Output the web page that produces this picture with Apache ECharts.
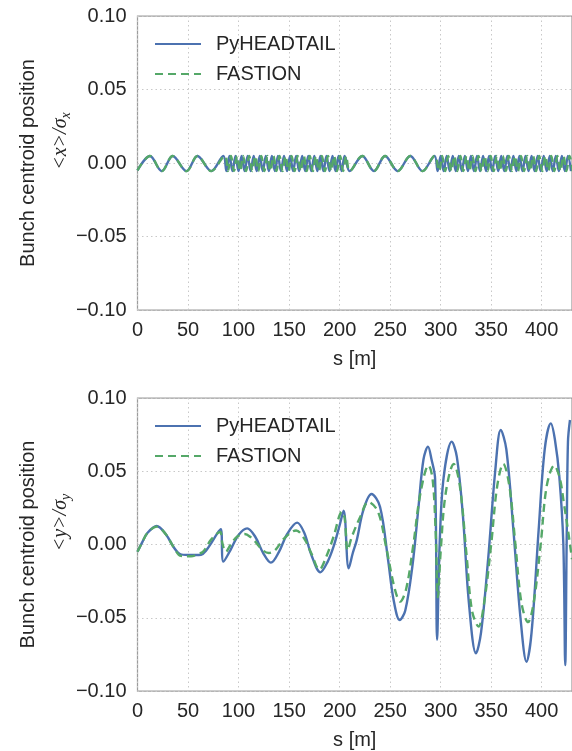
<!DOCTYPE html>
<html>
<head>
<meta charset="utf-8">
<script src="https://cdn.jsdelivr.net/npm/echarts@6/dist/echarts.min.js"></script>
<style>html,body{margin:0;padding:0;background:#fff;}#c{width:572px;height:751px;}</style>
</head>
<body>
<div id="c"></div>
<script>
// ---- Top panel: horizontal centroid <x>/sigma_x ----
const topPyS = [0, 12.3, 24, 34.8, 48.5, 59.3, 73,
  85, 88, 91, 94, 97, 100, 103, 106, 109, 112, 115, 118, 121, 124, 127, 130, 133, 136, 139, 142,
  145, 148, 151, 154, 157, 160, 163, 166, 169, 172, 175, 178, 181, 184, 187, 190, 193, 196, 199, 202, 205,
  210, 222.5, 234, 245, 257.5, 270, 282, 294,
  297, 300, 303, 306, 309, 312, 315, 318, 321, 324, 327, 330, 333, 336, 339, 342, 345, 348, 351, 354,
  357, 360, 363, 366, 369, 372, 375, 378, 381, 384, 387, 390, 393, 396, 399, 402, 405, 408, 411, 414,
  417, 420, 423, 426, 429];
const topPyV = [-0.005, 0.0048, -0.0055, 0.0048, -0.0055, 0.0048, -0.0055,
  0.0048, -0.0055, 0.0048, -0.0055, 0.0048, -0.0055, 0.0048, -0.0055, 0.0048, -0.0055, 0.0048, -0.0055, 0.0048, -0.0055, 0.0048, -0.0055, 0.0048, -0.0055, 0.0048, -0.0055,
  0.0048, -0.0055, 0.0048, -0.0055, 0.0048, -0.0055, 0.0048, -0.0055, 0.0048, -0.0055, 0.0048, -0.0055, 0.0048, -0.0055, 0.0048, -0.0055, 0.0048, -0.0055, 0.0048, -0.0055, 0.0048,
  -0.0055, 0.0048, -0.0055, 0.0048, -0.0055, 0.0048, -0.0055, 0.0048,
  -0.0055, 0.0048, -0.0055, 0.0048, -0.0055, 0.0048, -0.0055, 0.0048, -0.0055, 0.0048, -0.0055, 0.0048, -0.0055, 0.0048, -0.0055, 0.0048, -0.0055, 0.0048, -0.0055, 0.0048,
  -0.0055, 0.0048, -0.0055, 0.0048, -0.0055, 0.0048, -0.0055, 0.0048, -0.0055, 0.0048, -0.0055, 0.0048, -0.0055, 0.0048, -0.0055, 0.0048, -0.0055, 0.0048, -0.0055, 0.0048,
  -0.0055, 0.0048, -0.0055, 0.0048, -0.0055];
const topFaS = [0, 12.3, 24, 34.8, 48.5, 59.3, 73,
  86.5, 89.5, 92.5, 95.5, 98.5, 101.5, 104.5, 107.5, 110.5, 113.5, 116.5, 119.5, 122.5, 125.5, 128.5, 131.5, 134.5, 137.5, 140.5, 143.5,
  146.5, 149.5, 152.5, 155.5, 158.5, 161.5, 164.5, 167.5, 170.5, 173.5, 176.5, 179.5, 182.5, 185.5, 188.5, 191.5, 194.5, 197.5, 200.5, 203.5, 206.5,
  210, 222.5, 234, 245, 257.5, 270, 282, 294,
  298.5, 301.5, 304.5, 307.5, 310.5, 313.5, 316.5, 319.5, 322.5, 325.5, 328.5, 331.5, 334.5, 337.5, 340.5, 343.5, 346.5, 349.5, 352.5, 355.5,
  358.5, 361.5, 364.5, 367.5, 370.5, 373.5, 376.5, 379.5, 382.5, 385.5, 388.5, 391.5, 394.5, 397.5, 400.5, 403.5, 406.5, 409.5, 412.5, 415.5,
  418.5, 421.5, 424.5, 427.5, 430.5];
const topFaV = topPyV.slice();

// ---- Bottom panel: vertical centroid <y>/sigma_y ----
const botPyS = [0, 5, 10, 19, 28, 36, 42, 50, 63, 68, 73, 79, 82.5, 85, 92, 100, 108.5, 116.5, 124.5, 132,
  140, 148, 158, 165, 172, 181, 188, 194, 200, 204, 209, 213, 217, 223.5, 231.5, 240, 248, 253.5, 259.5, 265,
  272, 278, 283, 287.5, 291, 294.5, 296.5, 299, 303, 311, 316, 322, 328, 335, 340, 347, 354, 359.5, 365, 372,
  379, 385, 390, 397, 403, 409, 413, 417.5, 421.4, 423.3, 424.7, 426, 428];
const botPyV = [-0.005, 0.002, 0.008, 0.0126, 0.007, -0.002, -0.0065, -0.0072, -0.007, -0.004, 0.001, 0.0076, 0.0104, -0.0117, -0.0038, 0.0065, 0.011, 0.0053, -0.006, -0.0124,
  -0.005, 0.007, 0.0149, 0.008, -0.007, -0.019, -0.012, -0.0015, 0.013, 0.0231, -0.0163, -0.006, 0.003, 0.0235, 0.0345, 0.0258, -0.0106, -0.038, -0.0515, -0.045,
  -0.015, 0.025, 0.058, 0.0668, 0.058, 0.045, -0.065, 0.0, 0.046, 0.0702, 0.06, 0.02, -0.04, -0.0743, -0.06, -0.01, 0.05, 0.0782, 0.065, 0.01,
  -0.05, -0.08, -0.06, 0.01, 0.065, 0.0827, 0.072, 0.046, 0.001, -0.0823, 0.001, 0.07, 0.085];
const botFaS = [0, 5, 10, 19, 28, 36, 43, 53, 60, 65, 72.5, 79, 82, 84, 87.5, 92, 98.5, 106, 112, 118,
  124, 130, 136, 145, 157, 165, 172, 180, 187, 194, 202.5, 205, 208, 212, 220.5, 228.5, 238, 246, 254.5, 260,
  266, 273, 280, 288, 292, 295, 297.3, 300, 305, 313, 319, 326, 331, 337.5, 343, 350, 356, 362, 368, 374,
  380, 386.5, 392, 399, 405, 412.5, 418, 422, 426, 430];
const botFaV = [-0.005, 0.002, 0.008, 0.0122, 0.007, -0.002, -0.0078, -0.008, -0.0065, -0.0049, 0.003, 0.0076, 0.0085, 0.0008, -0.0049, -0.0003, 0.0053, 0.0072, 0.005, 0.0008,
  -0.004, -0.0058, -0.004, 0.004, 0.0096, 0.004, -0.006, -0.0171, -0.008, 0.0053, 0.0224, 0.018, -0.004, 0.005, 0.019, 0.029, 0.0224, -0.0015, -0.03, -0.039,
  -0.03, 0.0, 0.035, 0.054, 0.045, 0.01, -0.036, -0.005, 0.035, 0.055, 0.04, -0.01, -0.045, -0.056, -0.04, 0.0, 0.04, 0.055, 0.04, 0.0,
  -0.04, -0.053, -0.04, 0.0, 0.04, 0.054, 0.045, 0.028, 0.01, -0.01];

const xTicks = [0, 50, 100, 150, 200, 250, 300, 350, 400];
const yTicks = [-0.10, -0.05, 0.00, 0.05, 0.10];
const seriesNames = ['PyHEADTAIL', 'FASTION'];
const yNames = ['x', 'y'];

const pair = (s, v) => s.map((x, i) => [x, v[i]]);
const FONT = 'Liberation Sans, Arial, Helvetica, sans-serif';
const SERIF = 'Liberation Serif, DejaVu Serif, serif';
const TXT = '#262626';
const BLUE = '#4C72B0', GREEN = '#55A868';

function yFmt(v) {
  const a = Math.abs(v) < 1e-9 ? 0 : v;
  return (a < 0 ? '\u2212' : '') + Math.abs(a).toFixed(2);
}

function xAx(i) {
  return {
    type: 'value', gridIndex: i, min: 0, max: 430, interval: 50,
    axisLine: {show: false}, axisTick: {show: false},
    splitLine: {show: true, lineStyle: {color: '#c8c8c8', type: [1.5, 3], width: 1}},
    axisLabel: {fontSize: 20, color: TXT, fontFamily: FONT, margin: 10, showMaxLabel: false,
      formatter: v => xTicks.indexOf(v) >= 0 ? String(v) : ''},
    name: 's [m]', nameLocation: 'middle', nameGap: 39,
    nameTextStyle: {fontSize: 20, color: TXT, fontFamily: FONT}
  };
}
function yAx(i, sym) {
  return {
    type: 'value', gridIndex: i, min: -0.1, max: 0.1, interval: 0.05,
    axisLine: {show: false}, axisTick: {show: false},
    splitLine: {show: true, lineStyle: {color: '#c8c8c8', type: [1.5, 3], width: 1}},
    axisLabel: {fontSize: 20, color: TXT, fontFamily: FONT, margin: 11, formatter: yFmt},
    name: '{t|Bunch centroid position}\n{m|<' + sym + '>/\u03C3}{s|' + sym + '}',
    nameLocation: 'middle', nameGap: 61, nameMoveOverlap: false,
    nameTextStyle: {
      color: TXT,
      rich: {
        t: {fontSize: 20, fontFamily: FONT, color: TXT, lineHeight: 32},
        m: {fontSize: 20, fontFamily: SERIF, fontStyle: 'italic', color: TXT, lineHeight: 32, padding: [0, 0, 0, 44]},
        s: {fontSize: 14, fontFamily: SERIF, fontStyle: 'italic', color: TXT, lineHeight: 32, padding: [12, 0, 0, 0]}
      }
    }
  };
}
function legend(top) {
  return {
    data: seriesNames, orient: 'vertical', left: 149, top: top,
    itemWidth: 46, itemHeight: 14, itemGap: 10,
    itemStyle: {opacity: 0, color: 'rgba(0,0,0,0)', borderWidth: 0},
    textStyle: {fontSize: 20, color: TXT, fontFamily: FONT, lineHeight: 20, padding: [0, 0, 0, 10]},
    selectedMode: false
  };
}
function line(name, data, xi, color, dashed) {
  return {
    name: name, type: 'line', xAxisIndex: xi, yAxisIndex: xi, data: data,
    symbol: 'none', smooth: 0.35, animation: false,
    lineStyle: {color: color, width: 2.4, type: dashed ? [8, 5] : 'solid'},
    itemStyle: {color: color}
  };
}

const chart = echarts.init(document.getElementById('c'), null, {renderer: 'canvas'});
chart.setOption({
  backgroundColor: '#ffffff',
  animation: false,
  grid: [
    {left: 137.5, top: 16, width: 438.6, height: 294, show: true, borderColor: '#9c9c9c', borderWidth: 1.25, backgroundColor: '#fff'},
    {left: 137.5, top: 398, width: 438.6, height: 294, show: true, borderColor: '#9c9c9c', borderWidth: 1.25, backgroundColor: '#fff'}
  ],
  legend: [legend(29), legend(411)],
  xAxis: [xAx(0), xAx(1)],
  yAxis: [yAx(0, yNames[0]), yAx(1, yNames[1])],
  series: [
    line(seriesNames[0], pair(topPyS, topPyV), 0, BLUE, false),
    line(seriesNames[1], pair(topFaS, topFaV), 0, GREEN, true),
    line(seriesNames[0], pair(botPyS, botPyV), 1, BLUE, false),
    line(seriesNames[1], pair(botFaS, botFaV), 1, GREEN, true)
  ]
});
</script>
</body>
</html>
